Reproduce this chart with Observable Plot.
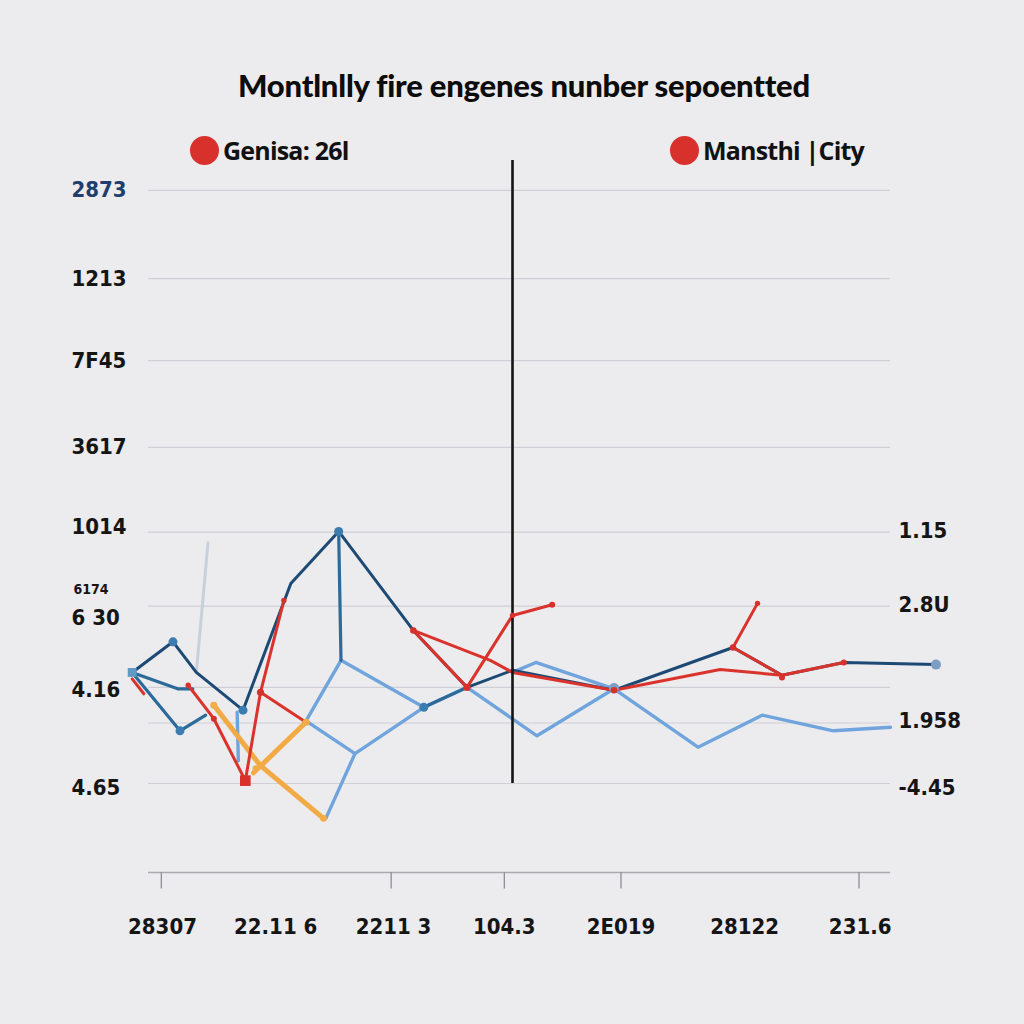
<!DOCTYPE html>
<html><head><meta charset="utf-8">
<script src="https://cdn.jsdelivr.net/npm/d3@7"></script>
<script src="https://cdn.jsdelivr.net/npm/@observablehq/plot@0.6"></script>
<style>
html,body{margin:0;padding:0;background:#ecebee;}
#wrap{width:1024px;height:1024px;position:relative;overflow:hidden;background:#ecebee;}
#head{position:relative;height:160px;}
#title{position:absolute;left:0;width:1048px;top:66px;text-align:center;font:900 31px Lato,"Open Sans",sans-serif;color:#0c0c0c;letter-spacing:-0.2px;}
.leg{position:absolute;top:133px;display:flex;align-items:center;font:700 25px "Open Sans",Lato,sans-serif;color:#111;letter-spacing:-0.8px;}
.dot{width:29px;height:29px;border-radius:50%;background:#d8312c;margin-right:4px;}
svg{display:block;}
</style></head>
<body><div id="wrap">
<div id="head">
<div id="title"></div>
<div class="leg" id="leg1" style="left:190px"><div class="dot"></div><span></span></div>
<div class="leg" id="leg2" style="left:670px"><div class="dot"></div><span></span></div>
</div>
<div id="chart"></div>
</div>
<script>
const titleText = "Montlnlly  fire engenes nunber sepoentted";
const legendLabels = ["Genisa: 26l", "Mansthi |City"];

// x: months (0..60), y: reported value (0..100)
const navyLines = [
  [[-2.6,28.1],[0.9,32.4],[2.9,28.1],[6.9,22.8],[11.0,40.6],[15.1,47.9],[21.5,34.0],[26.1,26.0],[30.0,28.4],[38.7,25.6],[48.9,31.6],[53.1,27.7],[58.4,29.5],[66.3,29.2]]
];
const steelLines = [
  [[-2.6,28.1],[1.5,19.9],[3.7,22.1]],
  [[-2.6,28.1],[1.3,25.8],[2.6,25.8]],
  [[15.1,47.9],[15.3,29.8]],
  [[22.4,23.2],[26.1,26.0]]
];
const lightLines = [
  [[14.0,7.6],[16.5,16.7],[22.4,23.2],[26.1,26.0],[32.1,19.2],[38.7,25.8],[45.9,17.6],[51.4,22.1],[57.5,19.9],[62.4,20.4]],
  [[30.0,28.1],[32.0,29.5],[38.7,25.8]],
  [[15.3,29.8],[22.4,23.2]],
  [[15.3,29.8],[12.3,21.3],[16.5,16.7]],
  [[6.4,22.5],[6.5,15.7]]
];
const faintLines = [
  [[3.9,46.3],[2.9,28.1]]
];
const redLines = [
  [[-2.6,27.2],[-1.6,25.1]],
  [[2.2,26.3],[4.4,21.6],[7.1,12.9],[8.4,25.3],[10.4,38.2]],
  [[8.4,25.3],[12.3,21.1]],
  [[21.5,34.0],[26.1,26.0],[30.0,36.1],[33.4,37.6]],
  [[21.5,34.0],[28.1,29.8],[30.0,28.1],[38.7,25.6],[47.8,28.5],[53.1,27.7],[58.4,29.5]],
  [[48.9,31.6],[51.0,37.8]],
  [[48.9,31.6],[53.1,27.7]]
];
const orangeLines = [
  [[4.4,23.5],[8.4,15.0],[13.8,7.6]],
  [[7.8,14.0],[12.3,21.1]]
];
const steelDots = [[0.9,32.4],[1.5,19.9],[15.1,47.9],[22.4,23.2],[6.9,22.8]];
const redDots = [[4.4,21.6,5],[8.4,25.3,7],[10.4,38.2,4],[21.5,34.0,6],[26.1,26.0,7],[30.0,36.1,4],[33.4,37.6,5],[38.7,25.6,6],[48.9,31.6,6],[51.0,37.8,4],[53.1,27.4,5],[58.4,29.5,5],[2.2,26.3,4]];
const redSquares = [[7.1,12.9]];
const orangeDots = [[4.4,23.5,7],[12.3,21.1,7],[8.0,14.6,6],[13.8,7.6,6]];
const startSquares = [[-2.6,28.1]];
const endDots = [[66.3,29.2],[38.7,25.9]];

const gridValues = [95.8, 83.4, 71.9, 59.7, 47.8, 37.4, 26.0, 21.0, 12.5];
const leftTickValues = [95.8, 83.4, 71.9, 59.7, 48.5, 35.8, 25.7, 11.9];
const leftTickLabels = ["2873", "1213", "7F45", "3617", "1014", "6 30", "4.16", "4.65"];
const leftSmallValues = [39.8];
const leftSmallLabels = ["6174"];
const rightTickValues = [48.0, 37.6, 21.3, 11.9];
const rightTickLabels = ["1.15", "2.8U", "1.958", "-4.45"];
const xLabelMonths = [0, 9.7, 19.8, 29.3, 39.3, 49.9, 59.8];
const xLabels = ["28307", "22.11 6", "2211 3", "104.3", "2E019", "28122", "231.6"];
const xTickMonths = [-0.1, 19.6, 29.3, 39.3, 59.7];
const markerMonth = 30.0;

document.getElementById("title").textContent = titleText;
document.querySelector("#leg1 span").textContent = legendLabels[0];
document.querySelector("#leg2 span").textContent = legendLabels[1];

const toRows = (paths) => paths.flatMap((p, i) => p.map(([x, y]) => ({x, y, path: i})));
const pts = (arr) => arr.map(([x, y, r]) => ({x, y, r: r || 5}));
const numFont = "'DejaVu Sans Condensed','Liberation Sans Narrow',sans-serif";

const chart = Plot.plot({
  width: 1024, height: 864,
  marginTop: 0, marginBottom: 152, marginLeft: 162, marginRight: 162,
  x: {domain: [0, 60], axis: null},
  y: {domain: [0, 100], axis: null},
  style: {background: "transparent", overflow: "visible"},
  marks: [
    Plot.ruleY(gridValues, {x1: -1.2, x2: 62.4, stroke: "#cfd0d5", strokeWidth: 1.2}),
    Plot.ruleY([0], {x1: -1.2, x2: 62.4, stroke: "#a9abb0", strokeWidth: 1.5}),
    Plot.ruleX(xTickMonths, {y1: 0, y2: -2.3, stroke: "#8d8f94", strokeWidth: 1.3}),
    Plot.line(toRows(faintLines), {x: "x", y: "y", z: "path", stroke: "#c8d0dc", strokeWidth: 3}),
    Plot.line(toRows(lightLines), {x: "x", y: "y", z: "path", stroke: "#6fa4dd", strokeWidth: 3.4}),
    Plot.line(toRows(navyLines), {x: "x", y: "y", z: "path", stroke: "#1c4a74", strokeWidth: 3}),
    Plot.line(toRows(steelLines), {x: "x", y: "y", z: "path", stroke: "#2c6a99", strokeWidth: 3.2}),
    Plot.line(toRows(orangeLines), {x: "x", y: "y", z: "path", stroke: "#f2aa44", strokeWidth: 5}),
    Plot.line(toRows(redLines), {x: "x", y: "y", z: "path", stroke: "#d9332c", strokeWidth: 3}),
    Plot.ruleX([markerMonth], {y1: 12.5, y2: 100, stroke: "#141414", strokeWidth: 2.6}),
    Plot.dot(pts(steelDots), {x: "x", y: "y", r: 4.5, fill: "#3b7db0"}),
    Plot.dot(pts(startSquares), {x: "x", y: "y", r: 5, symbol: "square", fill: "#5f9bc4"}),
    Plot.dot(pts(endDots), {x: "x", y: "y", r: 5, fill: "#7d9ec3"}),
    Plot.dot(pts(orangeDots), {x: "x", y: "y", r: "r", fill: "#f4ad45"}),
    Plot.dot(pts(redDots), {x: "x", y: "y", r: "r", fill: "#d9302b"}),
    Plot.dot(pts(redSquares), {x: "x", y: "y", r: 6, symbol: "square", fill: "#d9302b"}),
    Plot.text(leftTickValues, {y: d => d, text: (d, i) => leftTickLabels[i], frameAnchor: "left", dx: -91, textAnchor: "start", fontSize: 22, fontWeight: "bold", fontFamily: numFont, fill: (d, i) => i === 0 ? "#1f3e6e" : "#151515"}),
    Plot.text(leftSmallValues, {y: d => d, text: (d, i) => leftSmallLabels[i], frameAnchor: "left", dx: -89, textAnchor: "start", fontSize: 14, fontWeight: "bold", fontFamily: numFont, fill: "#151515"}),
    Plot.text(rightTickValues, {y: d => d, text: (d, i) => rightTickLabels[i], frameAnchor: "right", dx: 36, textAnchor: "start", fontSize: 22, fontWeight: "bold", fontFamily: numFont, fill: "#151515"}),
    Plot.text(xLabelMonths, {x: d => d, text: (d, i) => xLabels[i], frameAnchor: "bottom", dy: 61, fontSize: 22, fontWeight: "bold", fontFamily: numFont, fill: "#151515"})
  ]
});
document.getElementById("chart").appendChild(chart);
</script>
</body></html>
